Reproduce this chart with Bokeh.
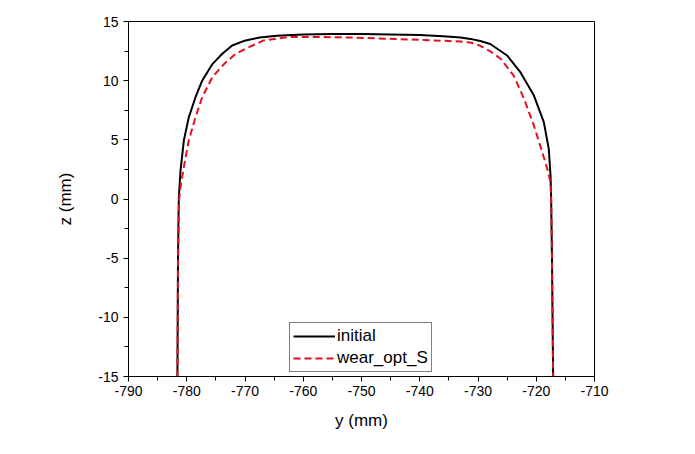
from bokeh.plotting import figure
from bokeh.models import Range1d, FixedTicker, Legend, LegendItem
from bokeh.embed import file_html
from bokeh.resources import INLINE

# initial profile (y in mm, z in mm)
y_init = [-781.6, -781.5, -781.4, -781.36, -781.07, -780.5, -779.65, -778.5, -777.35, -775.6,
          -773.9, -772.2, -769.9, -767.5, -764.5, -760.0, -755.0, -750.0, -745.0, -740.0,
          -736.0, -733.0, -731.3, -729.6, -727.9, -725.0, -722.7, -720.4, -718.7, -717.85,
          -717.55, -717.45, -717.3, -717.1]
z_init = [-15, -5, -1, 0.15, 2.4, 4.94, 6.9, 8.6, 10.0, 11.4,
          12.27, 12.97, 13.4, 13.65, 13.8, 13.9, 13.95, 13.95, 13.9, 13.85,
          13.75, 13.65, 13.53, 13.35, 13.1, 12.13, 10.7, 8.74, 6.5, 4.24,
          2.0, 0.3, -5, -15]

# worn profile
y_wear = [-781.6, -781.5, -781.3, -781.07, -780.5, -779.65, -778.5, -777.35, -775.6, -773.6,
          -771.6, -769.9, -766.8, -762.2, -758.0, -752.0, -746.0, -740.0, -735.0, -733.0,
          -731.3, -729.6, -727.8, -726.1, -723.85, -722.1, -720.4, -719.0, -718.1, -717.55,
          -717.45, -717.3, -717.1]
z_wear = [-15, -5, 0, 1.0, 2.7, 4.94, 6.9, 8.6, 10.3, 11.4,
          12.27, 12.7, 13.4, 13.7, 13.7, 13.65, 13.55, 13.45, 13.35, 13.3,
          13.22, 12.95, 12.45, 11.85, 10.4, 8.47, 6.2, 4.0, 2.55, 1.4,
          0, -5, -15]

x_ticks = [-790, -780, -770, -760, -750, -740, -730, -720, -710]
x_tick_labels = ["-790", "-780", "-770", "-760", "-750", "-740", "-730", "-720", "-710"]
y_ticks = [-15, -10, -5, 0, 5, 10, 15]
y_tick_labels = ["-15", "-10", "-5", "0", "5", "10", "15"]
series_names = ["initial", "wear_opt_S"]

FONT = "Liberation Sans"

p = figure(width=695, height=454, output_backend="svg", toolbar_location=None,
           x_range=Range1d(-790, -710), y_range=Range1d(-15, 15),
           min_border_left=128, min_border_right=101, min_border_top=21, min_border_bottom=78)
p.xgrid.visible = False
p.ygrid.visible = False
p.outline_line_color = "black"
p.outline_line_width = 1
p.background_fill_color = "white"
p.border_fill_color = "white"

r1 = p.line(y_init, z_init, line_color="black", line_width=2)
r2 = p.line(y_wear, z_wear, line_color="#e3101e", line_width=2, line_dash="7 4")

for ax, ticks, labels in ((p.xaxis[0], x_ticks, x_tick_labels), (p.yaxis[0], y_ticks, y_tick_labels)):
    minor = [(a + b) / 2 for a, b in zip(ticks[:-1], ticks[1:])]
    ax.ticker = FixedTicker(ticks=ticks, minor_ticks=minor)
    ax.major_label_overrides = {t: l for t, l in zip(ticks, labels)}
    ax.major_label_text_font = FONT
    ax.major_label_text_font_size = "14px"
    ax.major_label_text_color = "black"
    ax.axis_line_color = "black"
    ax.major_tick_line_color = "black"
    ax.minor_tick_line_color = "black"
    ax.major_tick_out = 5
    ax.major_tick_in = 0
    ax.minor_tick_out = 4
    ax.minor_tick_in = 0
    ax.axis_label_text_font = FONT
    ax.axis_label_text_font_size = "17px"
    ax.axis_label_text_font_style = "normal"
    ax.axis_label_text_color = "black"

p.xaxis[0].axis_label = "y (mm)"
p.yaxis[0].axis_label = "z (mm)"
p.xaxis[0].major_label_standoff = 4
p.xaxis[0].axis_label_standoff = 12
p.yaxis[0].major_label_standoff = 5
p.yaxis[0].axis_label_standoff = 20

legend = Legend(items=[LegendItem(label=series_names[0], renderers=[r1]),
                       LegendItem(label=series_names[1], renderers=[r2])],
                location=(161, 4))
legend.border_line_color = "black"
legend.border_line_width = 1
legend.background_fill_alpha = 1
legend.label_text_font = FONT
legend.label_text_font_size = "17px"
legend.label_text_color = "black"
legend.glyph_width = 42
legend.glyph_height = 20
legend.label_height = 20
legend.label_standoff = 2
legend.padding = 3
legend.spacing = 2
legend.margin = 0
p.add_layout(legend)

open("out.html", "w").write(file_html(p, INLINE))
